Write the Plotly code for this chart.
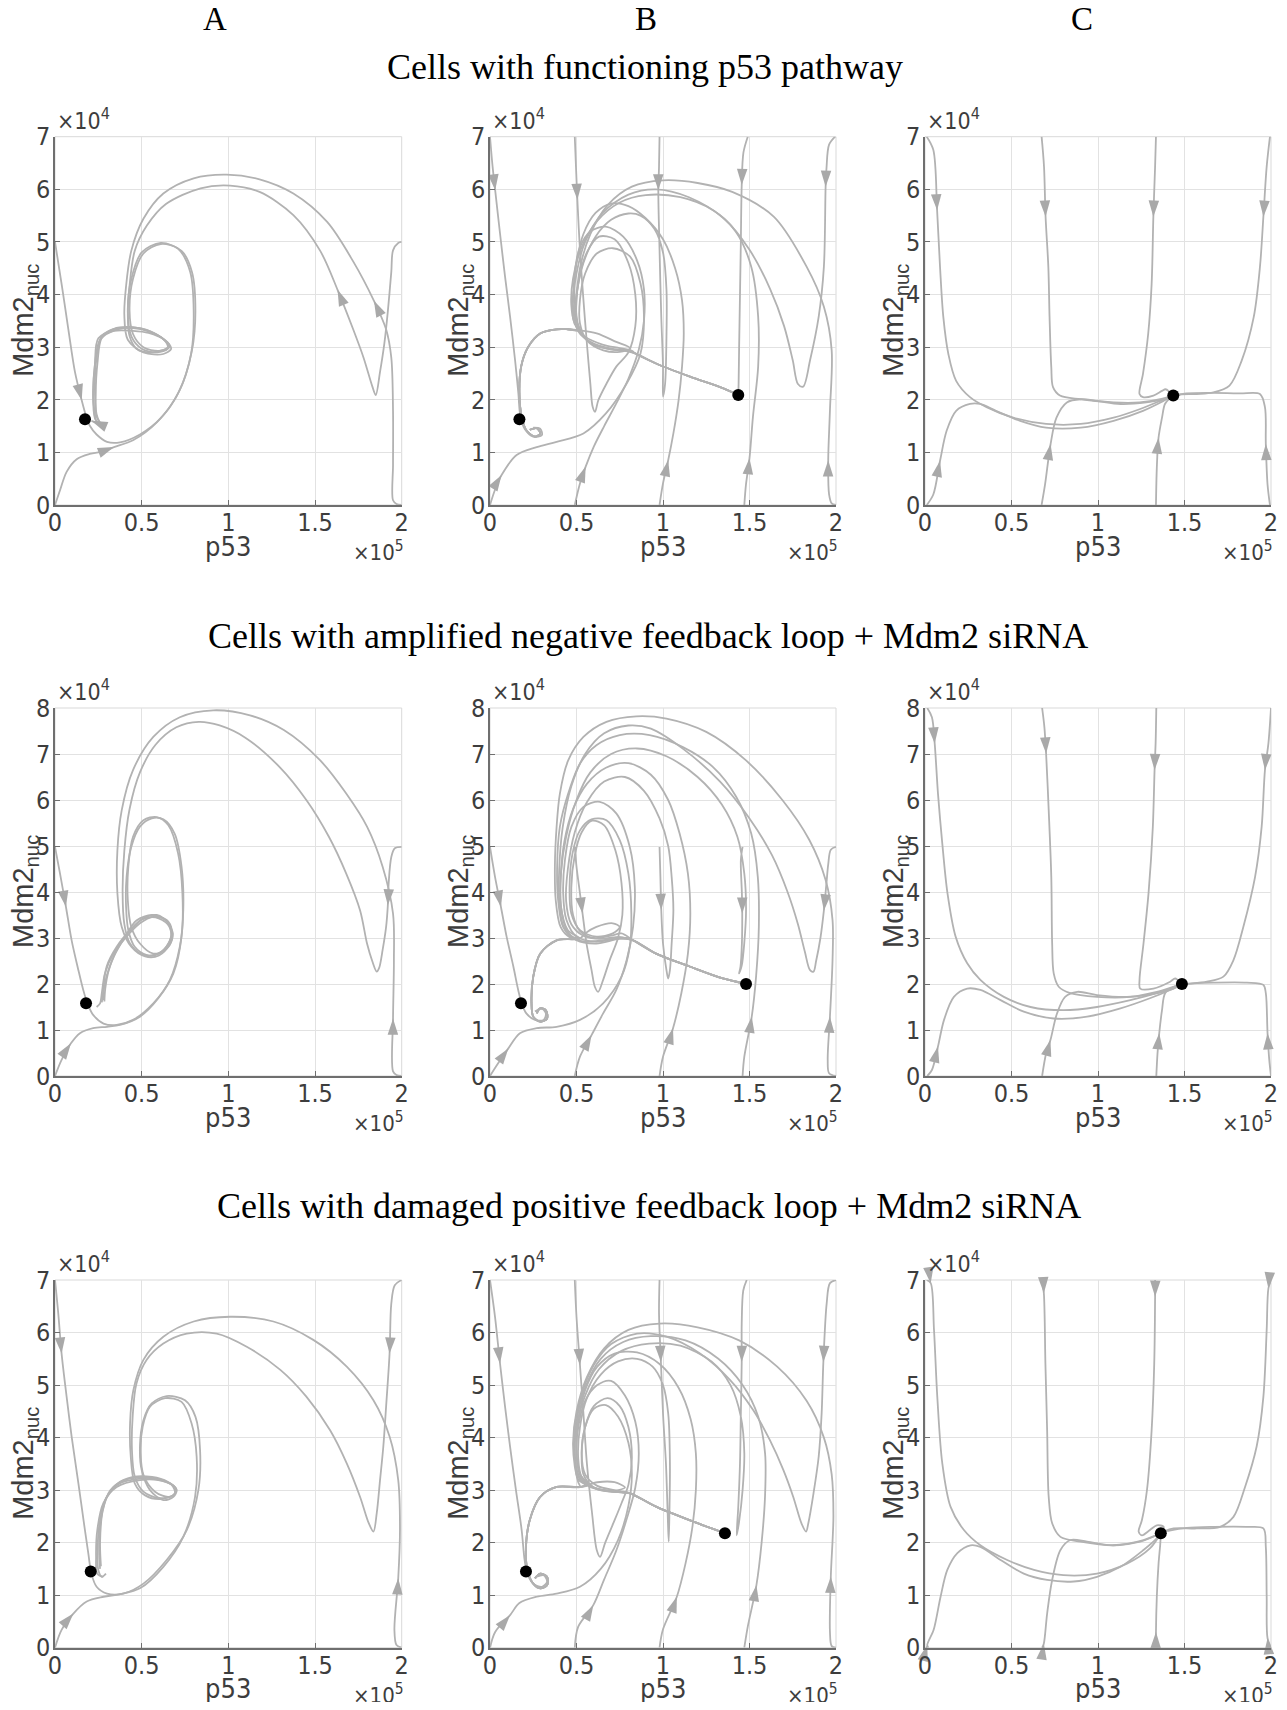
import math
import plotly.graph_objects as go

# page is rendered inside an 8px body margin -> figure fits inside it
PAGE_OFF = 8
W, H = 1287 - 2 * PAGE_OFF, 1710 - 2 * PAGE_OFF

# ---------------- layout geometry (page pixels of the reference) ----------------
COL_PX = [(55.0, 401.7), (490.0, 836.0), (925.0, 1271.0)]
ROW_PX = [(136.7, 505.0), (708.0, 1076.0), (1280.0, 1647.7)]
ROW_YMAX = [7, 8, 7]

COL_LETTERS = ["A", "B", "C"]
ROW_TITLES = ["Cells with functioning p53 pathway",
              "Cells with amplified negative feedback loop + Mdm2 siRNA",
              "Cells with damaged positive feedback loop + Mdm2 siRNA"]
X_TICKS = [0, 0.5, 1, 1.5, 2]
X_TICKTEXT = ["0", "0.5", "1", "1.5", "2"]


def px_to_paper_x(px):
    return (px - PAGE_OFF) / W


def px_to_paper_y(py):
    return 1 - (py - PAGE_OFF) / H


# ---------------- data: p53 (x1e5) vs Mdm2_nuc (x1e4) ----------------
# ---- Row 1, column A ----
T1A = [
    [(0, 5.0), (0.04, 4.16), (0.077, 3.34), (0.115, 2.53), (0.154, 1.99), (0.18, 1.68), (0.2, 1.51), (0.24, 1.34),
     (0.3, 1.2), (0.375, 1.19), (0.49, 1.34), (0.61, 1.65), (0.72, 2.19), (0.79, 2.94), (0.81, 3.68), (0.79, 4.43),
     (0.73, 4.83), (0.61, 4.98), (0.5, 4.8), (0.44, 4.29), (0.42, 3.68), (0.44, 3.21), (0.5, 2.97), (0.59, 2.9),
     (0.65, 2.97), (0.64, 3.1), (0.57, 3.27), (0.49, 3.36), (0.36, 3.34), (0.26, 3.14), (0.23, 2.66), (0.22, 2.12),
     (0.23, 1.65), (0.26, 1.51), (0.24, 1.56), (0.21, 1.6)],
    [(0, 0), (0.03, 0.29), (0.067, 0.63), (0.125, 0.87), (0.2, 0.97), (0.28, 1.02), (0.34, 1.1), (0.45, 1.23),
     (0.59, 1.58), (0.71, 2.12), (0.785, 2.87), (0.8, 3.68), (0.78, 4.43), (0.71, 4.87), (0.61, 4.96), (0.51, 4.78),
     (0.45, 4.3), (0.43, 3.7), (0.45, 3.25), (0.51, 3.0), (0.6, 2.93), (0.66, 3.0), (0.63, 3.14), (0.55, 3.3),
     (0.45, 3.38), (0.34, 3.35), (0.27, 3.18), (0.245, 2.7), (0.235, 2.1), (0.24, 1.68), (0.27, 1.52)],
    [(2.0, 5.0), (1.98, 4.98), (1.95, 4.84), (1.94, 4.43), (1.92, 3.68), (1.9, 3.07), (1.875, 2.53), (1.85, 2.09),
     (1.83, 2.26), (1.78, 2.8), (1.72, 3.34), (1.63, 4.09), (1.53, 4.83), (1.375, 5.51), (1.18, 5.95), (1.01, 6.07),
     (0.84, 6.02), (0.64, 5.72), (0.53, 5.31), (0.46, 4.83), (0.43, 4.16), (0.42, 3.61), (0.43, 3.21), (0.47, 2.97),
     (0.55, 2.9), (0.64, 2.97), (0.66, 3.04), (0.62, 3.17), (0.53, 3.31), (0.45, 3.36), (0.36, 3.36), (0.27, 3.21),
     (0.24, 2.8), (0.23, 2.26), (0.24, 1.72), (0.26, 1.55)],
    [(2.0, 0.0), (1.97, 0.02), (1.95, 0.09), (1.95, 0.77), (1.95, 1.78), (1.94, 2.8), (1.91, 3.34), (1.84, 3.88),
     (1.72, 4.63), (1.57, 5.38), (1.375, 5.92), (1.18, 6.19), (0.99, 6.28), (0.8, 6.21), (0.625, 5.92), (0.51, 5.44),
     (0.44, 4.83), (0.41, 4.16), (0.4, 3.61), (0.42, 3.14), (0.51, 2.9), (0.625, 2.87), (0.67, 2.97), (0.63, 3.14),
     (0.54, 3.27), (0.45, 3.31), (0.34, 3.31), (0.25, 3.17), (0.23, 2.66), (0.22, 2.05), (0.235, 1.61)],
]
ARR_1A = [(0, 4), (0, -1), (1, 6), (2, 11), (3, 7)]
DOT_1A = [(0.173, 1.63)]

# ---- Row 1, column B ----
LT_1B = [(0.52, 3.32), (0.45, 3.34), (0.385, 3.34), (0.29, 3.26), (0.22, 3.0), (0.18, 2.63), (0.17, 2.12),
         (0.183, 1.68), (0.21, 1.42), (0.26, 1.3), (0.29, 1.36), (0.27, 1.46), (0.23, 1.43)]
RT_1B = [(0.84, 2.88), (0.96, 2.69), (1.156, 2.44), (1.33, 2.24), (1.43, 2.1)]
T1B = [
    [(0.0, 7.0), (0.015, 6.43), (0.03, 5.98), (0.058, 5.16), (0.087, 4.34), (0.116, 3.58), (0.145, 2.75),
     (0.164, 2.12), (0.175, 1.7), (0.2, 1.45), (0.25, 1.3), (0.3, 1.33), (0.29, 1.45), (0.25, 1.47)],
    [(0.0, 0.0), (0.03, 0.3), (0.067, 0.57), (0.154, 0.95), (0.27, 1.1), (0.385, 1.2), (0.54, 1.36), (0.67, 1.74),
     (0.79, 2.31), (0.87, 2.88), (0.89, 3.58), (0.87, 4.21), (0.81, 4.72), (0.71, 4.88), (0.617, 4.78), (0.55, 4.4),
     (0.52, 3.9), (0.52, 3.45), (0.56, 3.13), (0.655, 2.94), (0.75, 2.91), (0.81, 2.98), (0.73, 3.1),
     (0.617, 3.26)] + LT_1B,
    [(0.49, 0.0), (0.52, 0.41), (0.553, 0.73), (0.6, 1.11), (0.66, 1.5), (0.73, 1.93), (0.8, 2.4), (0.86, 2.95),
     (0.89, 3.5), (0.89, 4.1), (0.85, 4.65), (0.77, 5.1), (0.67, 5.29), (0.58, 5.2), (0.52, 4.9), (0.49, 4.4),
     (0.49, 3.9), (0.5, 3.5), (0.54, 3.2), (0.62, 3.02), (0.72, 2.95), (0.8, 2.93)] + RT_1B,
    [(0.49, 7.0), (0.497, 6.43), (0.505, 5.8), (0.52, 4.85), (0.54, 3.9), (0.56, 3.07), (0.58, 2.31), (0.593, 1.87),
     (0.607, 1.77), (0.626, 1.99), (0.674, 2.31), (0.73, 2.63), (0.8, 2.9), (0.84, 3.4), (0.84, 4.0), (0.8, 4.6),
     (0.72, 5.05), (0.63, 5.1), (0.56, 4.8), (0.51, 4.2), (0.5, 3.6), (0.53, 3.25), (0.6, 3.05), (0.7, 2.96),
     (0.78, 2.93)] + RT_1B,
    [(0.98, 0.0), (1.0, 0.41), (1.03, 0.85), (1.06, 1.36), (1.09, 1.99), (1.11, 2.63), (1.12, 3.26), (1.11, 3.89),
     (1.07, 4.5), (1.0, 5.05), (0.9, 5.45), (0.8, 5.68), (0.7, 5.73), (0.61, 5.55), (0.54, 5.15), (0.5, 4.6),
     (0.48, 4.0), (0.48, 3.55), (0.5, 3.38)] + LT_1B,
    [(0.98, 7.0), (0.977, 6.43), (0.973, 5.98), (0.98, 4.85), (0.99, 3.58), (1.0, 2.63), (1.0, 2.06), (1.012, 2.3),
     (1.02, 3.2), (1.02, 4.1), (1.0, 4.8), (0.95, 5.25), (0.87, 5.5), (0.8, 5.54), (0.7, 5.42), (0.61, 5.1),
     (0.54, 4.6), (0.5, 4.0), (0.49, 3.6), (0.51, 3.3), (0.58, 3.1), (0.7, 2.97), (0.8, 2.94)] + RT_1B,
    [(1.47, 0.0), (1.48, 0.4), (1.5, 0.89), (1.52, 1.68), (1.55, 2.63), (1.55, 3.58), (1.51, 4.53), (1.42, 5.2),
     (1.29, 5.6), (1.1, 5.85), (0.9, 5.89), (0.75, 5.75), (0.62, 5.4), (0.53, 4.9), (0.48, 4.3), (0.47, 3.8),
     (0.49, 3.45)] + LT_1B,
    [(1.49, 7.0), (1.465, 6.7), (1.455, 6.08), (1.45, 5.0), (1.445, 4.0), (1.44, 3.0), (1.437, 2.3), (1.435, 2.09)],
    [(1.995, 7.0), (1.96, 6.85), (1.945, 6.4), (1.94, 6.05), (1.93, 4.53), (1.9, 3.58), (1.85, 2.75), (1.81, 2.25),
     (1.78, 2.3), (1.75, 2.75), (1.7, 3.4), (1.62, 4.1), (1.5, 4.85), (1.35, 5.45), (1.15, 5.85), (0.96, 6.0),
     (0.8, 5.9), (0.65, 5.55), (0.55, 5.0), (0.5, 4.4), (0.48, 3.8), (0.5, 3.4), (0.55, 3.2), (0.65, 3.05),
     (0.75, 2.98), (0.82, 2.93)] + RT_1B,
    [(2.0, 0.0), (1.975, 0.03), (1.96, 0.2), (1.955, 0.85), (1.965, 1.8), (1.975, 2.94), (1.93, 3.77), (1.83, 4.53),
     (1.64, 5.48), (1.4, 5.95), (1.2, 6.12), (1.0, 6.17), (0.82, 6.05), (0.68, 5.7), (0.58, 5.15), (0.52, 4.5),
     (0.5, 3.9), (0.5, 3.5)] + LT_1B,
]
ARR_1B = [(0, 2), (1, 2), (2, 2), (3, 2), (4, 2), (5, 2), (6, 2), (7, 2), (8, 3), (9, 3)]
DOT_1B = [(0.17, 1.63), (1.435, 2.09)]

# ---- Row 1, column C ----
T1C = [
    [(0.01, 7.0), (0.048, 6.75), (0.07, 5.6), (0.087, 4.52), (0.106, 3.57), (0.135, 2.87), (0.18, 2.36),
     (0.26, 2.05), (0.356, 1.86), (0.51, 1.66), (0.7, 1.54), (0.9, 1.54), (1.09, 1.66), (1.24, 1.82), (1.36, 1.98),
     (1.43, 2.08)],
    [(0.01, 0.0), (0.048, 0.2), (0.087, 0.84), (0.125, 1.41), (0.18, 1.79), (0.26, 1.92), (0.318, 1.92),
     (0.41, 1.79), (0.55, 1.6), (0.7, 1.47), (0.9, 1.47), (1.09, 1.6), (1.26, 1.79), (1.38, 1.98), (1.43, 2.07)],
    [(0.674, 7.0), (0.688, 6.43), (0.697, 5.48), (0.713, 4.52), (0.72, 3.57), (0.73, 2.62), (0.74, 2.24),
     (0.78, 2.08), (0.9, 2.01), (1.09, 1.95), (1.24, 1.95), (1.36, 2.01), (1.43, 2.08)],
    [(0.674, 0.0), (0.694, 0.39), (0.726, 1.16), (0.76, 1.66), (0.82, 1.95), (0.9, 2.01), (0.99, 1.98),
     (1.13, 1.92), (1.28, 1.95), (1.38, 2.01), (1.43, 2.07)],
    [(1.335, 7.0), (1.33, 6.43), (1.32, 5.48), (1.31, 4.2), (1.29, 3.25), (1.26, 2.49), (1.24, 2.11), (1.26, 2.05),
     (1.32, 2.08), (1.37, 2.17), (1.39, 2.2), (1.41, 2.16), (1.43, 2.08)],
    [(1.335, 0.0), (1.34, 0.71), (1.35, 1.28), (1.37, 1.66), (1.387, 1.92), (1.415, 2.03), (1.43, 2.07)],
    [(1.994, 7.0), (1.975, 6.43), (1.956, 5.48), (1.936, 4.52), (1.9, 3.57), (1.83, 2.74), (1.76, 2.27),
     (1.667, 2.14), (1.57, 2.11), (1.475, 2.1), (1.44, 2.08)],
    [(1.994, 0.0), (1.98, 0.39), (1.97, 1.16), (1.965, 1.86), (1.936, 2.11), (1.82, 2.12), (1.667, 2.13),
     (1.51, 2.12), (1.445, 2.08)],
]
ARR_1C = [(0, 2), (1, 2), (2, 2), (3, 2), (4, 2), (5, 2), (6, 2), (7, 2)]
DOT_1C = [(1.435, 2.08)]

# ---- Row 2, column A ----
T2A = [
    [(0, 4.98), (0.029, 4.4), (0.063, 3.68), (0.096, 2.95), (0.135, 2.3), (0.163, 1.87), (0.187, 1.58),
     (0.22, 1.33), (0.28, 1.14), (0.356, 1.11), (0.45, 1.22), (0.567, 1.58), (0.663, 2.09), (0.72, 2.81),
     (0.74, 3.61), (0.73, 4.55), (0.69, 5.27), (0.625, 5.58), (0.558, 5.6), (0.49, 5.42), (0.44, 4.98),
     (0.413, 4.33), (0.41, 3.68), (0.423, 3.17), (0.46, 2.81), (0.53, 2.63), (0.6, 2.66), (0.654, 2.88),
     (0.673, 3.17), (0.644, 3.39), (0.567, 3.46), (0.49, 3.32), (0.413, 3.03), (0.337, 2.66), (0.288, 2.23),
     (0.27, 1.8), (0.26, 1.58), (0.24, 1.5)],
    [(0, 0), (0.038, 0.35), (0.092, 0.71), (0.144, 0.93), (0.22, 1.04), (0.3, 1.07), (0.375, 1.11), (0.49, 1.29),
     (0.596, 1.69), (0.683, 2.23), (0.73, 3.03), (0.735, 3.97), (0.71, 4.84), (0.654, 5.45), (0.587, 5.63),
     (0.51, 5.56), (0.45, 5.2), (0.423, 4.55), (0.42, 3.82), (0.44, 3.24), (0.49, 2.88), (0.567, 2.66),
     (0.635, 2.74), (0.673, 2.95), (0.654, 3.32), (0.587, 3.5), (0.51, 3.43), (0.433, 3.17), (0.356, 2.81),
     (0.298, 2.38), (0.279, 1.87), (0.279, 1.65)],
    [(2.0, 4.98), (1.96, 4.95), (1.94, 4.76), (1.925, 4.2), (1.92, 3.71), (1.91, 3.24), (1.89, 2.74), (1.87, 2.35),
     (1.856, 2.27), (1.83, 2.5), (1.8, 2.88), (1.76, 3.6), (1.68, 4.4), (1.58, 5.2), (1.45, 6.0), (1.3, 6.7),
     (1.1, 7.35), (0.95, 7.62), (0.83, 7.7), (0.7, 7.58), (0.58, 7.2), (0.49, 6.6), (0.43, 5.8), (0.4, 4.9),
     (0.39, 4.0), (0.4, 3.3), (0.43, 2.9), (0.5, 2.65), (0.58, 2.64), (0.64, 2.8), (0.67, 3.05), (0.65, 3.3),
     (0.58, 3.45), (0.5, 3.4), (0.42, 3.1), (0.35, 2.7), (0.31, 2.3), (0.29, 1.9), (0.285, 1.62)],
    [(2.0, 0.0), (1.97, 0.02), (1.95, 0.1), (1.95, 1.25), (1.955, 2.5), (1.95, 3.53), (1.89, 4.55), (1.8, 5.42),
     (1.68, 6.14), (1.53, 6.86), (1.32, 7.52), (1.125, 7.84), (0.913, 7.95), (0.72, 7.8), (0.567, 7.37),
     (0.45, 6.65), (0.385, 5.78), (0.36, 4.91), (0.36, 3.97), (0.385, 3.24), (0.44, 2.81), (0.52, 2.6),
     (0.6, 2.62), (0.66, 2.85), (0.68, 3.1), (0.64, 3.38), (0.56, 3.5), (0.47, 3.38), (0.4, 3.0), (0.34, 2.6),
     (0.3, 2.2), (0.28, 1.85), (0.27, 1.6)],
]
ARR_2A = [(0, 2), (1, 2), (2, 4), (3, 3)]
DOT_2A = [(0.179, 1.58)]

# ---- Row 2, column B ----
LT_2B = [(0.52, 2.99), (0.385, 2.95), (0.29, 2.66), (0.25, 2.16), (0.24, 1.58), (0.25, 1.29), (0.29, 1.18),
         (0.33, 1.25), (0.323, 1.43), (0.29, 1.47), (0.27, 1.36)]
RT_2B = [(0.827, 2.95), (0.96, 2.66), (1.154, 2.38), (1.346, 2.12), (1.47, 2.01)]
T2B = [
    [(0.0, 4.98), (0.029, 4.33), (0.063, 3.68), (0.096, 3.03), (0.135, 2.38), (0.163, 1.87), (0.183, 1.58),
     (0.21, 1.36), (0.26, 1.22), (0.31, 1.22), (0.323, 1.36), (0.298, 1.47), (0.26, 1.4)],
    [(0.0, 0.0), (0.048, 0.28), (0.106, 0.6), (0.173, 0.93), (0.27, 1.04), (0.385, 1.07), (0.52, 1.22),
     (0.654, 1.58), (0.76, 2.16), (0.808, 2.81), (0.817, 3.53), (0.8, 4.4), (0.75, 5.13), (0.673, 5.56),
     (0.587, 5.58), (0.52, 5.34), (0.477, 4.84), (0.46, 4.11), (0.47, 3.53), (0.52, 3.17), (0.615, 3.03),
     (0.71, 3.1), (0.75, 3.24), (0.71, 3.32), (0.615, 3.24), (0.55, 3.1)] + LT_2B,
    [(0.49, 0.0), (0.52, 0.42), (0.587, 0.89), (0.654, 1.36), (0.73, 1.87), (0.79, 2.52), (0.827, 3.24),
     (0.837, 4.11), (0.808, 4.98), (0.73, 5.71), (0.635, 5.96), (0.54, 5.85), (0.471, 5.42), (0.433, 4.69),
     (0.423, 3.97), (0.442, 3.39), (0.5, 3.03), (0.615, 2.92), (0.73, 2.99), (0.79, 3.0)] + RT_2B,
    [(0.49, 4.98), (0.5, 4.55), (0.52, 3.97), (0.535, 3.53), (0.558, 2.88), (0.587, 2.3), (0.606, 1.94),
     (0.625, 1.83), (0.654, 2.09), (0.692, 2.52), (0.74, 3.0), (0.765, 3.5), (0.76, 4.2), (0.725, 4.9),
     (0.66, 5.45), (0.59, 5.55), (0.53, 5.3), (0.49, 4.8), (0.47, 4.1), (0.48, 3.5), (0.52, 3.15), (0.6, 3.0),
     (0.7, 3.05), (0.76, 3.1)] + RT_2B,
    [(0.98, 0.0), (1.0, 0.42), (1.058, 1.04), (1.106, 1.8), (1.144, 2.66), (1.158, 3.53), (1.144, 4.4),
     (1.096, 5.27), (1.03, 6.0), (0.93, 6.55), (0.8, 6.8), (0.67, 6.7), (0.56, 6.35), (0.48, 5.8), (0.43, 5.1),
     (0.41, 4.4), (0.41, 3.68), (0.45, 3.17)] + LT_2B,
    [(0.98, 4.98), (0.985, 4.33), (0.99, 3.61), (1.0, 2.88), (1.02, 2.3), (1.03, 2.12), (1.04, 2.3), (1.05, 2.88),
     (1.06, 3.61), (1.05, 4.33), (1.03, 5.0), (0.98, 5.6), (0.89, 6.2), (0.78, 6.5), (0.66, 6.4), (0.56, 5.95),
     (0.49, 5.3), (0.45, 4.5), (0.44, 3.8), (0.47, 3.3), (0.54, 3.05), (0.64, 2.98), (0.74, 3.02)] + RT_2B,
    [(1.46, 0.0), (1.47, 0.42), (1.513, 1.29), (1.538, 2.16), (1.554, 3.24), (1.548, 4.33), (1.51, 5.27),
     (1.423, 6.07), (1.288, 6.72), (1.115, 7.15), (0.923, 7.41), (0.75, 7.41), (0.615, 7.19), (0.52, 6.79),
     (0.452, 6.14), (0.404, 5.42), (0.388, 4.55), (0.394, 3.82), (0.423, 3.24), (0.5, 2.95), (0.615, 2.88),
     (0.75, 2.98)] + RT_2B,
    [(1.46, 4.98), (1.45, 4.69), (1.456, 3.97), (1.458, 3.53), (1.456, 2.88), (1.448, 2.38), (1.44, 2.23),
     (1.455, 2.4), (1.47, 2.9), (1.48, 3.6), (1.47, 4.4), (1.43, 5.2), (1.34, 5.9), (1.2, 6.5), (1.02, 6.95),
     (0.85, 7.12), (0.7, 7.0), (0.58, 6.6), (0.5, 6.0), (0.44, 5.2), (0.41, 4.4), (0.41, 3.7), (0.44, 3.2),
     (0.48, 3.02)] + LT_2B,
    [(2.0, 4.98), (1.97, 4.92), (1.955, 4.6), (1.945, 4.2), (1.93, 3.6), (1.91, 3.0), (1.885, 2.5), (1.87, 2.27),
     (1.85, 2.3), (1.82, 2.7), (1.78, 3.3), (1.72, 4.0), (1.63, 4.8), (1.5, 5.6), (1.33, 6.4), (1.12, 7.1),
     (0.93, 7.55), (0.8, 7.62), (0.66, 7.45), (0.55, 7.0), (0.47, 6.3), (0.42, 5.4), (0.4, 4.5), (0.4, 3.8),
     (0.42, 3.3), (0.46, 3.05), (0.55, 2.92), (0.65, 2.95), (0.75, 3.02)] + RT_2B,
    [(2.0, 0.0), (1.96, 0.06), (1.952, 0.35), (1.965, 1.29), (1.98, 2.52), (1.98, 3.39), (1.94, 4.26),
     (1.846, 5.13), (1.69, 6.0), (1.48, 6.86), (1.25, 7.48), (1.02, 7.77), (0.846, 7.82), (0.673, 7.7),
     (0.54, 7.37), (0.452, 6.86), (0.404, 6.14), (0.385, 5.42), (0.375, 4.55), (0.38, 3.82), (0.408, 3.24),
     (0.46, 3.02)] + LT_2B,
]
ARR_2B = [(0, 2), (1, 2), (2, 2), (3, 3), (4, 2), (5, 2), (6, 2), (7, 3), (8, 4), (9, 3)]
DOT_2B = [(0.179, 1.58), (1.48, 2.0)]

# ---- Row 2, column C ----
T2C = [
    [(0.013, 8.0), (0.04, 7.8), (0.056, 7.23), (0.075, 6.14), (0.1, 5.05), (0.13, 3.97), (0.177, 3.03),
     (0.244, 2.45), (0.32, 2.09), (0.456, 1.72), (0.61, 1.5), (0.8, 1.43), (0.994, 1.5), (1.187, 1.65),
     (1.34, 1.8), (1.437, 1.9), (1.475, 1.98)],
    [(0.013, 0.0), (0.04, 0.13), (0.075, 0.64), (0.11, 1.22), (0.167, 1.72), (0.244, 1.9), (0.32, 1.87),
     (0.437, 1.65), (0.571, 1.4), (0.744, 1.25), (0.937, 1.29), (1.13, 1.47), (1.3, 1.69), (1.417, 1.87),
     (1.475, 1.98)],
    [(0.677, 8.0), (0.69, 7.59), (0.7, 7.01), (0.715, 5.78), (0.73, 4.33), (0.735, 2.88), (0.744, 2.23),
     (0.773, 1.94), (0.84, 1.8), (0.994, 1.72), (1.187, 1.72), (1.34, 1.83), (1.437, 1.94), (1.475, 1.98)],
    [(0.677, 0.0), (0.7, 0.49), (0.725, 0.78), (0.763, 1.36), (0.81, 1.72), (0.88, 1.83), (0.994, 1.76),
     (1.167, 1.72), (1.34, 1.8), (1.475, 1.98)],
    [(1.337, 8.0), (1.333, 7.23), (1.327, 6.65), (1.317, 5.42), (1.292, 3.97), (1.263, 2.88), (1.24, 2.09),
     (1.244, 1.9), (1.32, 1.9), (1.417, 2.05), (1.446, 2.12), (1.475, 2.03)],
    [(1.337, 0.0), (1.344, 0.49), (1.354, 0.93), (1.37, 1.43), (1.388, 1.8), (1.437, 1.94), (1.475, 1.98)],
    [(2.0, 8.0), (1.985, 7.23), (1.965, 6.65), (1.946, 5.42), (1.908, 4.33), (1.84, 3.24), (1.783, 2.52),
     (1.725, 2.16), (1.63, 2.05), (1.533, 2.01), (1.485, 2.0)],
    [(2.0, 0.0), (1.99, 0.35), (1.98, 0.93), (1.97, 1.8), (1.956, 1.98), (1.86, 2.03), (1.667, 2.03),
     (1.533, 2.01), (1.49, 2.0)],
]
ARR_2C = [(0, 2), (1, 2), (2, 2), (3, 2), (4, 2), (5, 2), (6, 2), (7, 2)]
DOT_2C = [(1.485, 2.0)]

# ---- Row 3, column A ----
T3A = [
    [(0, 7), (0.019, 6.36), (0.038, 5.6), (0.067, 4.78), (0.096, 4.02), (0.135, 3.13), (0.167, 2.37),
     (0.192, 1.8), (0.21, 1.41), (0.24, 1.16), (0.3, 1.03), (0.394, 1.03), (0.51, 1.22), (0.644, 1.67),
     (0.76, 2.24), (0.827, 3.0), (0.837, 3.76), (0.81, 4.4), (0.75, 4.71), (0.644, 4.79), (0.558, 4.65),
     (0.51, 4.33), (0.49, 3.83), (0.5, 3.38), (0.548, 3.0), (0.625, 2.81), (0.683, 2.87), (0.702, 3.0),
     (0.663, 3.13), (0.587, 3.22), (0.49, 3.22), (0.375, 3.13), (0.298, 2.87), (0.26, 2.43), (0.246, 1.92),
     (0.25, 1.48), (0.27, 1.35), (0.294, 1.41)],
    [(0, 0), (0.038, 0.34), (0.106, 0.65), (0.183, 0.88), (0.28, 0.97), (0.375, 1.02), (0.49, 1.13),
     (0.625, 1.54), (0.74, 2.11), (0.808, 2.87), (0.817, 3.64), (0.788, 4.27), (0.73, 4.68), (0.635, 4.75),
     (0.548, 4.59), (0.506, 4.21), (0.494, 3.7), (0.513, 3.26), (0.577, 2.97), (0.654, 2.87), (0.692, 2.94),
     (0.673, 3.1), (0.596, 3.19), (0.49, 3.19), (0.356, 3.06), (0.279, 2.75), (0.244, 2.24), (0.237, 1.73),
     (0.244, 1.41), (0.279, 1.35)],
    [(2.0, 7.0), (1.96, 6.9), (1.94, 6.55), (1.93, 5.6), (1.91, 4.59), (1.894, 3.83), (1.875, 3.19),
     (1.856, 2.56), (1.837, 2.21), (1.81, 2.37), (1.76, 2.87), (1.683, 3.51), (1.587, 4.14), (1.45, 4.78),
     (1.3, 5.29), (1.106, 5.73), (0.933, 5.98), (0.76, 5.98), (0.625, 5.79), (0.529, 5.48), (0.47, 5.03),
     (0.448, 4.4), (0.444, 3.76), (0.46, 3.26), (0.51, 2.97), (0.6, 2.85), (0.68, 2.9), (0.7, 3.02),
     (0.65, 3.16), (0.56, 3.25), (0.45, 3.25), (0.35, 3.1), (0.29, 2.8), (0.26, 2.3), (0.255, 1.8), (0.26, 1.5)],
    [(2.0, 0.0), (1.97, 0.05), (1.958, 0.34), (1.98, 1.32), (1.99, 2.24), (1.98, 3.19), (1.93, 4.02),
     (1.837, 4.71), (1.683, 5.35), (1.49, 5.86), (1.26, 6.21), (1.01, 6.3), (0.8, 6.21), (0.625, 5.92),
     (0.51, 5.48), (0.452, 4.9), (0.433, 4.27), (0.437, 3.64), (0.46, 3.13), (0.52, 2.9), (0.61, 2.83),
     (0.69, 2.92), (0.69, 3.06), (0.62, 3.18), (0.52, 3.24), (0.41, 3.2), (0.32, 3.0), (0.275, 2.6), (0.26, 2.0),
     (0.265, 1.55)],
]
ARR_3A = [(0, 2), (1, 2), (2, 3), (3, 3)]
DOT_3A = [(0.206, 1.45)]

# ---- Row 3, column B ----
LT_3B = [(0.52, 3.06), (0.385, 3.06), (0.29, 2.87), (0.23, 2.43), (0.208, 1.92), (0.216, 1.48), (0.25, 1.22),
         (0.29, 1.13), (0.33, 1.19), (0.33, 1.35), (0.29, 1.41), (0.26, 1.32)]
RT_3B = [(0.81, 2.94), (0.963, 2.68), (1.175, 2.4), (1.35, 2.19)]
T3B = [
    [(0.0, 7.0), (0.029, 6.3), (0.058, 5.41), (0.087, 4.59), (0.116, 3.83), (0.15, 3.0), (0.183, 2.24),
     (0.2, 1.67), (0.216, 1.41), (0.25, 1.22), (0.3, 1.16), (0.33, 1.26), (0.31, 1.38), (0.27, 1.35)],
    [(0.0, 0.0), (0.03, 0.3), (0.116, 0.62), (0.17, 0.85), (0.27, 0.97), (0.385, 1.03), (0.52, 1.16),
     (0.64, 1.5), (0.74, 2.05), (0.8, 2.7), (0.82, 3.3), (0.8, 3.9), (0.74, 4.4), (0.67, 4.62), (0.6, 4.55),
     (0.55, 4.2), (0.53, 3.7), (0.54, 3.3), (0.6, 3.05), (0.7, 2.98), (0.78, 3.05), (0.72, 3.15),
     (0.62, 3.15)] + LT_3B,
    [(0.49, 0.0), (0.51, 0.4), (0.597, 0.81), (0.66, 1.3), (0.73, 1.85), (0.79, 2.45), (0.84, 3.05), (0.86, 3.7),
     (0.84, 4.3), (0.78, 4.8), (0.7, 5.08), (0.62, 5.0), (0.55, 4.7), (0.51, 4.2), (0.5, 3.7), (0.52, 3.3),
     (0.58, 3.08), (0.68, 2.98), (0.76, 2.96)] + RT_3B,
    [(0.49, 7.0), (0.5, 6.3), (0.52, 5.38), (0.54, 4.46), (0.56, 3.51), (0.59, 2.56), (0.617, 1.86),
     (0.636, 1.73), (0.665, 1.99), (0.713, 2.37), (0.76, 2.75), (0.8, 3.1), (0.82, 3.6), (0.8, 4.2), (0.75, 4.6),
     (0.68, 4.75), (0.6, 4.6), (0.55, 4.2), (0.53, 3.7), (0.55, 3.3), (0.62, 3.08), (0.72, 3.0),
     (0.77, 2.97)] + RT_3B,
    [(0.98, 0.0), (1.0, 0.35), (1.08, 0.97), (1.13, 1.6), (1.17, 2.3), (1.19, 3.0), (1.19, 3.7), (1.16, 4.35),
     (1.09, 4.95), (0.98, 5.4), (0.85, 5.62), (0.72, 5.6), (0.62, 5.35), (0.55, 4.9), (0.51, 4.3), (0.5, 3.7),
     (0.52, 3.3), (0.57, 3.1)] + LT_3B,
    [(0.98, 7.0), (0.977, 6.36), (0.988, 5.44), (1.0, 4.46), (1.017, 3.51), (1.027, 2.56), (1.033, 2.02),
     (1.037, 2.56), (1.04, 3.51), (1.03, 4.46), (1.0, 5.0), (0.94, 5.35), (0.85, 5.5), (0.74, 5.45), (0.64, 5.2),
     (0.56, 4.75), (0.52, 4.2), (0.51, 3.6), (0.53, 3.25), (0.6, 3.05), (0.7, 2.98), (0.77, 2.96)] + RT_3B,
    [(1.47, 0.0), (1.49, 0.4), (1.54, 1.19), (1.57, 2.0), (1.59, 2.9), (1.59, 3.7), (1.55, 4.4), (1.46, 5.0),
     (1.32, 5.5), (1.13, 5.85), (0.93, 5.93), (0.77, 5.82), (0.64, 5.5), (0.55, 4.95), (0.5, 4.3), (0.49, 3.7),
     (0.51, 3.3), (0.57, 3.08), (0.67, 2.98), (0.76, 2.96)] + RT_3B,
    [(1.484, 7.0), (1.464, 6.8), (1.455, 6.17), (1.455, 5.44), (1.45, 4.46), (1.445, 3.51), (1.435, 2.68),
     (1.426, 2.14), (1.44, 2.4), (1.46, 3.0), (1.47, 3.7), (1.45, 4.4), (1.39, 5.0), (1.28, 5.45), (1.1, 5.75),
     (0.92, 5.79), (0.76, 5.65), (0.63, 5.3), (0.55, 4.8), (0.5, 4.2), (0.49, 3.6), (0.51, 3.2),
     (0.55, 3.1)] + LT_3B,
    [(2.0, 7.0), (1.965, 6.94), (1.946, 6.55), (1.927, 5.44), (1.917, 4.46), (1.9, 3.64), (1.87, 2.94),
     (1.84, 2.37), (1.827, 2.21), (1.8, 2.37), (1.753, 2.87), (1.696, 3.38), (1.618, 3.95), (1.522, 4.52),
     (1.387, 5.1), (1.214, 5.6), (1.02, 5.92), (0.85, 5.98), (0.7, 5.78), (0.6, 5.38), (0.53, 4.82), (0.49, 4.2),
     (0.49, 3.6), (0.52, 3.2), (0.6, 3.05), (0.7, 2.98), (0.77, 2.95)] + RT_3B,
    [(2.0, 0.0), (1.975, 0.03), (1.965, 0.3), (1.97, 1.35), (1.985, 2.5), (1.975, 3.3), (1.93, 4.0), (1.83, 4.7),
     (1.66, 5.35), (1.44, 5.85), (1.2, 6.1), (0.98, 6.17), (0.8, 6.05), (0.66, 5.7), (0.56, 5.15), (0.5, 4.5),
     (0.48, 3.9), (0.49, 3.45), (0.51, 3.15)] + LT_3B,
]
ARR_3B = [(0, 2), (1, 2), (2, 2), (3, 2), (4, 2), (5, 2), (6, 2), (7, 3), (8, 3), (9, 3)]
DOT_3B = [(0.208, 1.45), (1.358, 2.18)]

# ---- Row 3, column C ----
T3C = [
    [(0.01, 7.0), (0.033, 6.94), (0.052, 6.05), (0.071, 4.78), (0.1, 3.51), (0.148, 2.68), (0.225, 2.24),
     (0.32, 1.95), (0.475, 1.67), (0.63, 1.48), (0.8, 1.38), (0.994, 1.41), (1.167, 1.6), (1.3, 1.89),
     (1.363, 2.18)],
    [(0.02, 0.0), (0.013, 0.05), (0.05, 0.34), (0.09, 0.97), (0.129, 1.48), (0.187, 1.8), (0.263, 1.95),
     (0.32, 1.92), (0.437, 1.67), (0.571, 1.41), (0.706, 1.29), (0.86, 1.26), (0.994, 1.35), (1.13, 1.54),
     (1.263, 1.86), (1.34, 2.08), (1.363, 2.18)],
    [(0.677, 7.0), (0.687, 6.75), (0.696, 5.41), (0.706, 4.14), (0.715, 2.87), (0.735, 2.37), (0.783, 2.11),
     (0.898, 2.02), (1.09, 1.95), (1.244, 2.02), (1.363, 2.18)],
    [(0.677, 0.0), (0.687, 0.08), (0.706, 0.65), (0.735, 1.29), (0.783, 1.86), (0.84, 2.05), (0.937, 2.02),
     (1.09, 1.95), (1.263, 2.05), (1.363, 2.18)],
    [(1.33, 7.0), (1.33, 6.68), (1.325, 5.41), (1.31, 4.14), (1.283, 3.0), (1.254, 2.43), (1.235, 2.21),
     (1.254, 2.14), (1.3, 2.24), (1.34, 2.33), (1.38, 2.3), (1.363, 2.18)],
    [(1.335, 0.0), (1.335, 0.3), (1.34, 0.97), (1.35, 1.6), (1.36, 1.98), (1.363, 2.18)],
    [(2.0, 7.0), (1.985, 6.84), (1.975, 6.05), (1.956, 4.78), (1.917, 3.83), (1.85, 3.06), (1.783, 2.49),
     (1.706, 2.3), (1.57, 2.27), (1.437, 2.27), (1.38, 2.21)],
    [(2.0, 0.0), (1.98, 0.18), (1.975, 0.97), (1.97, 1.92), (1.956, 2.27), (1.86, 2.3), (1.667, 2.3),
     (1.513, 2.28), (1.4, 2.22)],
]
ARR_3C = [(0, 1), (1, 1), (2, 1), (3, 1), (4, 1), (5, 1), (6, 1), (7, 1)]
DOT_3C = [(1.363, 2.18)]

PANELS = [
    (T1A, ARR_1A, DOT_1A), (T1B, ARR_1B, DOT_1B), (T1C, ARR_1C, DOT_1C),
    (T2A, ARR_2A, DOT_2A), (T2B, ARR_2B, DOT_2B), (T2C, ARR_2C, DOT_2C),
    (T3A, ARR_3A, DOT_3A), (T3B, ARR_3B, DOT_3B), (T3C, ARR_3C, DOT_3C),
]

# ---------------- styling ----------------
LINE_C = "#b2b2b2"
ARROW_C = "#a9a9a9"
AXIS_C = "#6f6f6f"
GRID_C = "#e2e2e2"
TEXT_C = "#3d3d3d"
NARROW = "Liberation Sans Narrow, DejaVu Sans Condensed, Arial Narrow, Liberation Sans, Arial"
SANS = "Liberation Sans, Arial, Helvetica"
SERIF = "Liberation Serif, Times New Roman, serif"


def dedupe(pts):
    out = []
    for p in pts:
        if not out or (abs(p[0] - out[-1][0]) > 1e-9 or abs(p[1] - out[-1][1]) > 1e-9):
            out.append(p)
    return out


def arrow_angle(pts, i, sx, sy):
    n = len(pts)
    i = i % n
    a = pts[max(i - 1, 0)]
    b = pts[min(i + 1, n - 1)]
    dx = (b[0] - a[0]) * sx
    dy = (b[1] - a[1]) * sy
    return math.degrees(math.atan2(dx, dy))


fig = go.Figure()
annotations = []
shapes = []

for k, (trajs, arrows, dots) in enumerate(PANELS):
    r, c = divmod(k, 3)
    sfx = "" if k == 0 else str(k + 1)
    xa, ya = "x" + sfx, "y" + sfx
    x0p, x1p = COL_PX[c]
    y0p, y1p = ROW_PX[r]
    xd = [px_to_paper_x(x0p), px_to_paper_x(x1p)]
    yd = [px_to_paper_y(y1p), px_to_paper_y(y0p)]
    ymax = ROW_YMAX[r]
    sx = (x1p - x0p) / 2.0
    sy = (y1p - y0p) / ymax

    clean = [dedupe(t) for t in trajs]
    for t in clean:
        fig.add_trace(go.Scatter(
            x=[p[0] for p in t], y=[p[1] for p in t], mode="lines",
            line=dict(color=LINE_C, width=1.8, shape="spline", smoothing=0.9),
            xaxis=xa, yaxis=ya, hoverinfo="skip", showlegend=False))

    ax_, ay_, ang = [], [], []
    for (ti, vi) in arrows:
        t = clean[ti]
        p = t[vi % len(t)]
        ax_.append(p[0])
        ay_.append(p[1])
        ang.append(arrow_angle(t, vi, sx, sy))
    fig.add_trace(go.Scatter(
        x=ax_, y=ay_, mode="markers",
        marker=dict(symbol="arrow", size=17, angle=ang, color=ARROW_C, line=dict(width=0)),
        xaxis=xa, yaxis=ya, hoverinfo="skip", showlegend=False, cliponaxis=False))

    fig.add_trace(go.Scatter(
        x=[d[0] for d in dots], y=[d[1] for d in dots], mode="markers",
        marker=dict(symbol="circle", size=12, color="black"),
        xaxis=xa, yaxis=ya, hoverinfo="skip", showlegend=False, cliponaxis=False))

    common = dict(showgrid=True, gridcolor=GRID_C, gridwidth=1, zeroline=False,
                  showline=True, linecolor=AXIS_C, linewidth=1.6, automargin=False,
                  ticks="inside", ticklen=5, tickwidth=1, tickcolor=AXIS_C,
                  tickfont=dict(family=NARROW, size=25, color=TEXT_C), fixedrange=True)
    fig.layout["xaxis" + sfx] = dict(domain=xd, range=[0, 2], anchor=ya,
                                      tickvals=X_TICKS, ticktext=X_TICKTEXT,
                                      ticklabelstandoff=-6, **common)
    fig.layout["yaxis" + sfx] = dict(domain=yd, range=[0, ymax], anchor=xa,
                                      tickvals=list(range(ymax + 1)),
                                      ticktext=[str(v) for v in range(ymax + 1)],
                                      ticklabelstandoff=-2, **common)

    dx, dy = xa + " domain", ya + " domain"
    shapes.append(dict(type="rect", xref=dx, yref=dy, x0=0, x1=1, y0=0, y1=1,
                       line=dict(color="#d9d9d9", width=1), layer="below"))
    annotations += [
        dict(text="Mdm2<sub>nuc</sub>", xref=dx, yref=dy, x=0, y=0.5, xshift=-30, textangle=-90,
             xanchor="center", yanchor="middle", showarrow=False,
             font=dict(family=SANS, size=29, color=TEXT_C)),
        dict(text="p53", xref=dx, yref=dy, x=0.5, y=0, yshift=-41,
             xanchor="center", yanchor="middle", showarrow=False,
             font=dict(family=NARROW, size=27, color=TEXT_C)),
        dict(text="\u00d710<sup>5</sup>", xref=dx, yref=dy, x=1, y=0, yshift=-46, xshift=4,
             xanchor="right", yanchor="middle", showarrow=False,
             font=dict(family=NARROW, size=22, color=TEXT_C)),
        dict(text="\u00d710<sup>4</sup>", xref=dx, yref=dy, x=0, y=1, yshift=18, xshift=0,
             xanchor="left", yanchor="middle", showarrow=False,
             font=dict(family=NARROW, size=23, color=TEXT_C)),
    ]

# column letters and row titles (reference page pixels)
LETTER_POS = [(215, 19), (646, 19), (1082, 19)]
for (lx, ly), letter in zip(LETTER_POS, COL_LETTERS):
    annotations.append(dict(text=letter, xref="paper", yref="paper",
                            x=px_to_paper_x(lx), y=px_to_paper_y(ly),
                            xanchor="center", yanchor="middle", showarrow=False,
                            font=dict(family=SERIF, size=33, color="black")))
ROW_TITLE_POS = [(645, 67), (648, 636), (649, 1206)]
for (tx, ty), title in zip(ROW_TITLE_POS, ROW_TITLES):
    annotations.append(dict(text=title, xref="paper", yref="paper",
                            x=px_to_paper_x(tx), y=px_to_paper_y(ty),
                            xanchor="center", yanchor="middle", showarrow=False,
                            font=dict(family=SERIF, size=36, color="black")))

fig.update_layout(width=W, height=H, autosize=False,
                  margin=dict(l=0, r=0, t=0, b=0, autoexpand=False),
                  paper_bgcolor="white", plot_bgcolor="white",
                  showlegend=False, annotations=annotations, shapes=shapes)

fig.write_html("out.html")
